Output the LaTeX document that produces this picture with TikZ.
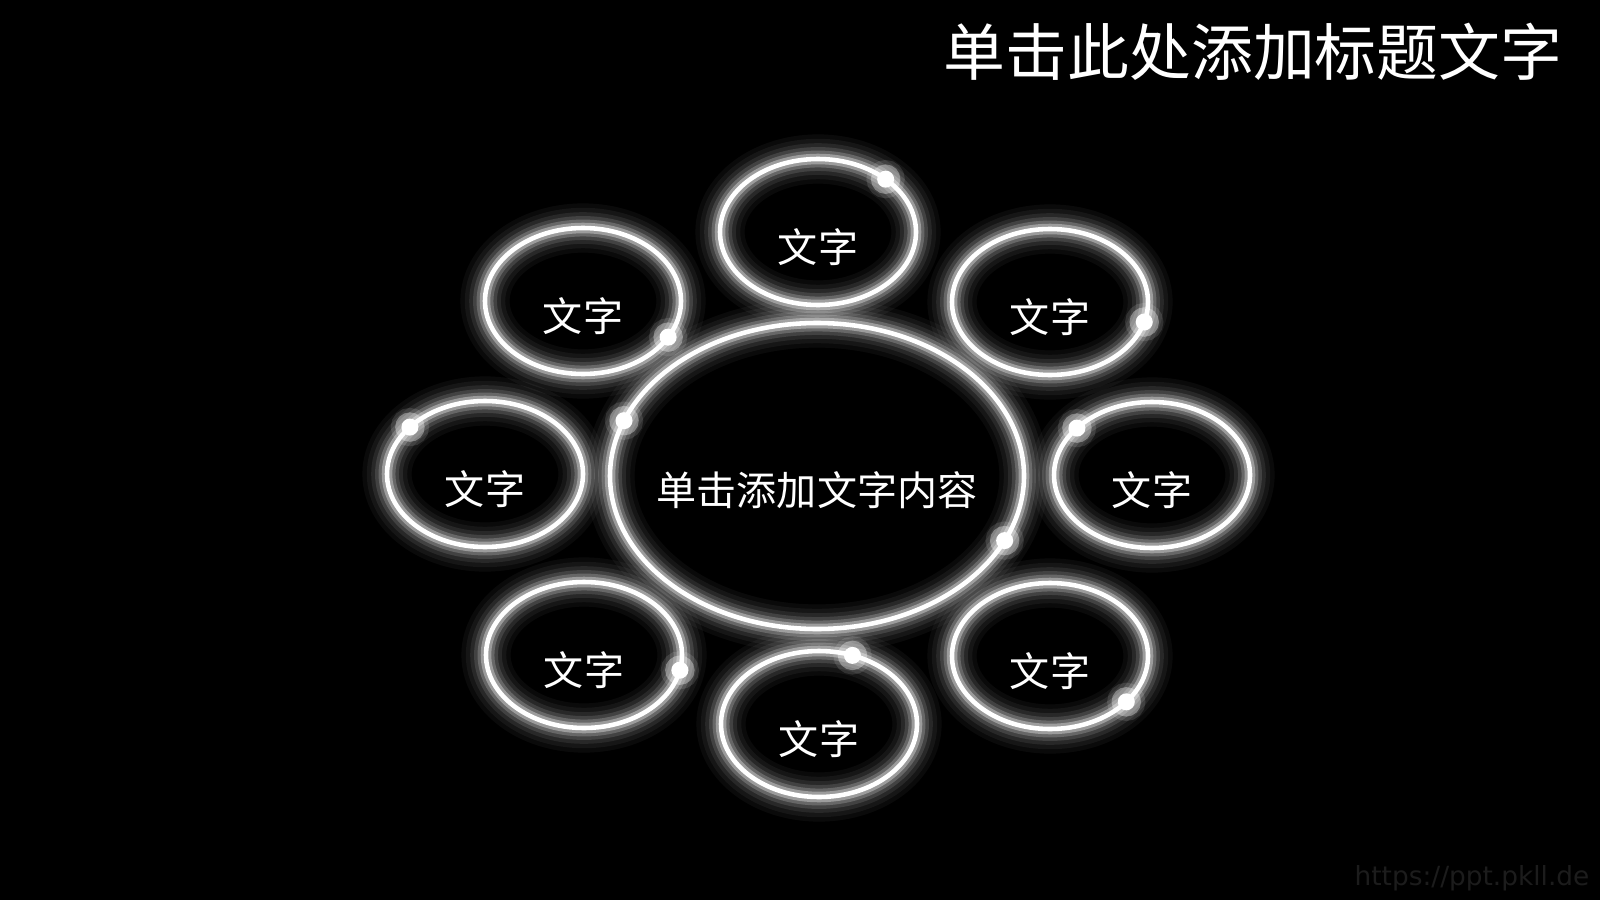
\documentclass[tikz,border=0pt]{standalone}
\usepackage{fontspec}
\newfontfamily\cjk{Noto Sans CJK SC}
\newfontfamily\wmfont{DejaVu Sans}
\usetikzlibrary{shapes.geometric}
\definecolor{wmgray}{HTML}{1C1C1C}
\tikzset{
  ring/.style={ellipse, draw=white, line width=1.3pt, inner sep=0pt, outer sep=0pt,
    minimum width=1.96cm, minimum height=1.46cm,
    preaction={draw=white, line width=14pt, opacity=0.04},
    preaction={draw=white, line width=11.5pt, opacity=0.05},
    preaction={draw=white, line width=9pt, opacity=0.08},
    preaction={draw=white, line width=6.8pt, opacity=0.12},
    preaction={draw=white, line width=4.8pt, opacity=0.2},
    preaction={draw=white, line width=3pt, opacity=0.35}},
  dot/.style={circle, fill=white, inner sep=0pt, minimum size=1.7mm,
    preaction={draw=white, line width=6pt, opacity=0.12},
    preaction={draw=white, line width=3.5pt, opacity=0.35}},
  txt/.style={text=white, font=\cjk\fontsize{11.4}{13}\selectfont, inner sep=0pt},
  title/.style={text=white, font=\cjk\fontsize{17.6}{20}\selectfont, inner sep=0pt},
}
\begin{document}
\begin{tikzpicture}
\fill[black] (0,0) rectangle (16,9);
\useasboundingbox (0,0) rectangle (16,9);

\node[ring, minimum width=4.14cm, minimum height=3.06cm] (hub) at (8.17,4.24) {};
\node[ring] (top) at (8.18,6.68) {};
\node[ring] (ul)  at (5.83,5.99) {};
\node[ring] (ur)  at (10.50,5.98) {};
\node[ring] (l)   at (4.85,4.26) {};
\node[ring] (r)   at (11.52,4.25) {};
\node[ring] (ll)  at (5.84,2.45) {};
\node[ring] (lr)  at (10.50,2.44) {};
\node[ring] (bot) at (8.19,1.76) {};

\foreach \n in {top,ul,ur,l,r,ll,lr,bot}
  \node[txt] (\n-t) at ([yshift=-1.5mm]\n.center) {文字};
\node[txt] (hub-t) at ([yshift=-1.4mm]hub.center) {单击添加文字内容};

% bright spots on the rings
\foreach \n/\a in {top/38,ul/-23,ur/-12,l/148,r/148,ll/-9,lr/-31,bot/64,hub/164,hub/-19}
  \node[dot] (\n-\a) at (\n.\a) {};

\node[title, anchor=east] (title) at (15.63,8.48) {单击此处添加标题文字};
\node[anchor=east, inner sep=0pt, text=wmgray, font=\wmfont\fontsize{7.5}{9}\selectfont] (site) at (15.9,0.22) {https://ppt.pkll.de};
\end{tikzpicture}
\end{document}
